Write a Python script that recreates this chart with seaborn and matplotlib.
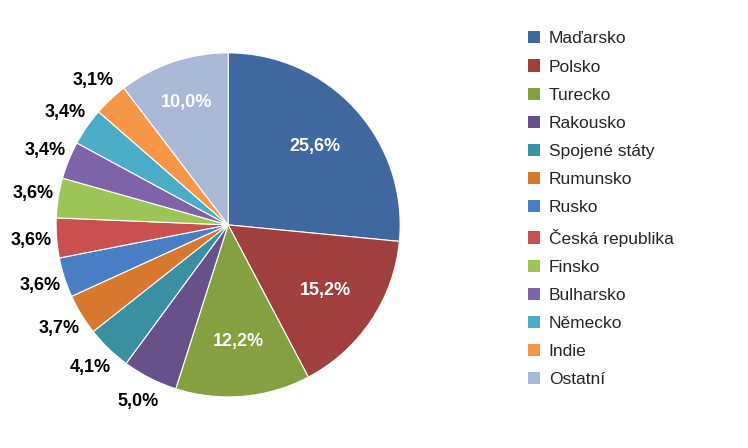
import seaborn as sns
import matplotlib.pyplot as plt
from matplotlib.patches import Patch
import numpy as np

countries = ["Maďarsko", "Polsko", "Turecko", "Rakousko", "Spojené státy", "Rumunsko",
             "Rusko", "Česká republika", "Finsko", "Bulharsko", "Německo", "Indie", "Ostatní"]
shares = [25.6, 15.2, 12.2, 5.0, 4.1, 3.7, 3.6, 3.6, 3.6, 3.4, 3.4, 3.1, 10.0]
hexes = ["#3F68A0", "#A03F3D", "#84A040", "#68508A", "#3A8FA3", "#D8782F", "#4A7EC4",
         "#C9504E", "#9CC457", "#7F63A8", "#4AACC6", "#F79646", "#A9B8D6"]

sns.set_style("white")
plt.rcParams["font.family"] = "Liberation Sans"
colors = sns.color_palette(hexes)
fig = plt.figure(figsize=(7.48, 4.48), dpi=100)
ax = fig.add_axes([0.075, 0.114, 0.46, 0.768])
wedges, _ = ax.pie(shares, colors=colors, startangle=90, counterclock=False,
                   wedgeprops=dict(linewidth=0.8, edgecolor="white"))
ax.set_xlim(-1.0, 1.0)
ax.set_ylim(-1.0, 1.0)
ax.set_aspect("equal")

for i, (w, v) in enumerate(zip(wedges, shares)):
    ang = np.deg2rad((w.theta1 + w.theta2) / 2)
    inside = i < 3 or i == len(shares) - 1
    r = 0.68 if inside else 1.15
    if i == len(shares) - 1:
        r = 0.75
    ax.text(r * np.cos(ang), r * np.sin(ang), f"{v:.1f}".replace(".", ",") + "%",
            ha="center", va="center", fontsize=13, fontweight="bold",
            color="white" if inside else "black")

handles = [Patch(facecolor=c, edgecolor="none") for c in colors]
fig.legend(handles, countries, loc="upper left", bbox_to_anchor=(0.685, 0.965),
           frameon=False, fontsize=12.5, handlelength=0.7, handleheight=0.7,
           labelspacing=0.75, handletextpad=0.5)
fig.savefig("out.png", dpi=100)
